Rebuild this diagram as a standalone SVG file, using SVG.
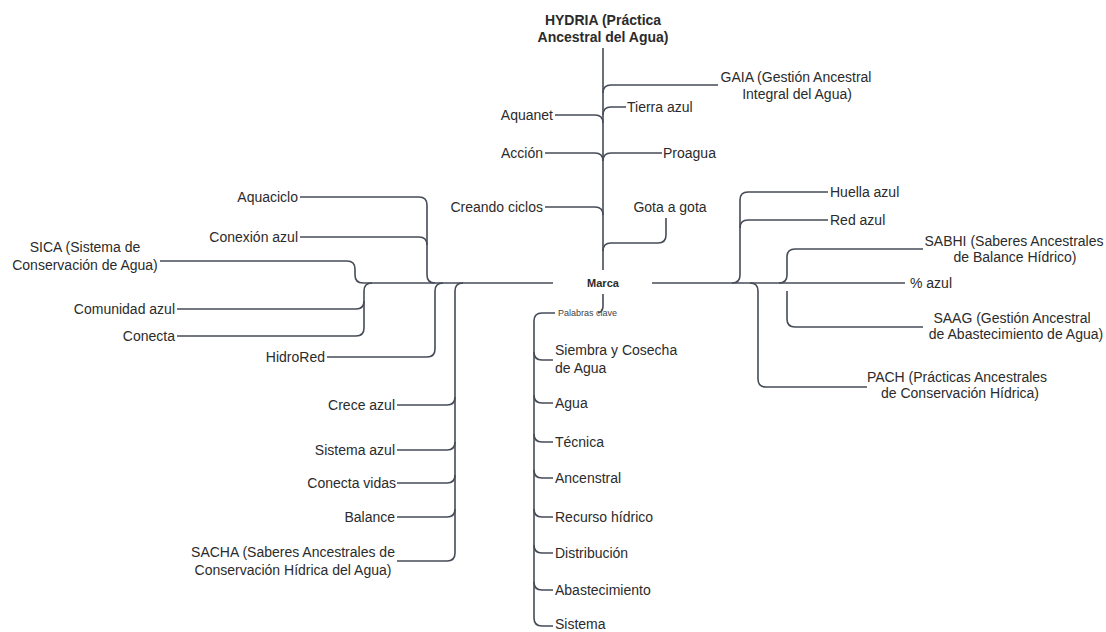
<svg xmlns="http://www.w3.org/2000/svg" width="1106" height="632" viewBox="0 0 1106 632">
<style>
text{font-family:"Liberation Sans",Arial,sans-serif;font-size:14px;fill:#2b2b2b}
.b{font-weight:bold}
.e{text-anchor:end}
.m{text-anchor:middle}
.s{font-size:9px;fill:#444}
#connectors path{fill:none;stroke:#454b57;stroke-width:1.6}
</style>
<rect width="1106" height="632" fill="#fff"/>
<g id="connectors">
<path d="M603,48 V270"/>
<path d="M603,93 Q603,85 611,85 H718"/>
<path d="M603,115 Q603,107 611,107 H626"/>
<path d="M555,115 H595 Q603,115 603,123"/>
<path d="M545,153 H595 Q603,153 603,161"/>
<path d="M603,161 Q603,153 611,153 H662"/>
<path d="M545,207 H595 Q603,207 603,215"/>
<path d="M666,218 V235 Q666,243 658,243 H611 Q603,243 603,251"/>
<path d="M363,283 H553"/>
<path d="M652,283 H905"/>
<path d="M300,197 H419 Q427,197 427,205 V275 Q427,283 435,283"/>
<path d="M300,237 H419 Q427,237 427,245"/>
<path d="M160,261 H347 Q355,261 355,269 V275 Q355,283 363,283"/>
<path d="M372,283 Q364,283 364,291 V328 Q364,336 356,336 H177"/>
<path d="M177,309 H356 Q364,309 364,301"/>
<path d="M443,283 Q435,283 435,291 V349 Q435,357 427,357 H327"/>
<path d="M463,283 Q455,283 455,291 V553 Q455,561 447,561 H397"/>
<path d="M397,405 H447 Q455,405 455,397"/>
<path d="M397,450 H447 Q455,450 455,442"/>
<path d="M397,483 H447 Q455,483 455,475"/>
<path d="M397,517 H447 Q455,517 455,509"/>
<path d="M603,294 V306 Q603,312 598,313"/>
<path d="M555,313 H542 Q534,313 534,321 V618 Q534,626 542,626 H553"/>
<path d="M534,352 Q534,360 542,360 H553"/>
<path d="M534,395 Q534,403 542,403 H553"/>
<path d="M534,434 Q534,442 542,442 H553"/>
<path d="M534,470 Q534,478 542,478 H553"/>
<path d="M534,509 Q534,517 542,517 H553"/>
<path d="M534,545 Q534,553 542,553 H553"/>
<path d="M534,582 Q534,590 542,590 H553"/>
<path d="M732,283 Q740,283 740,275 V200 Q740,192 748,192 H828"/>
<path d="M740,228 Q740,220 748,220 H828"/>
<path d="M779,283 Q787,283 787,275 V257 Q787,249 795,249 H923"/>
<path d="M787,291 V319 Q787,327 795,327 H923"/>
<path d="M750,283 Q758,283 758,291 V379 Q758,387 766,387 H867"/>
</g>
<g id="n-hydria"><text class="b m" x="603" y="25">HYDRIA (Práctica</text><text class="b m" x="603" y="42">Ancestral del Agua)</text></g>
<g id="n-gaia"><text class="m" x="796" y="82">GAIA (Gestión Ancestral</text><text class="m" x="797" y="99">Integral del Agua)</text></g>
<g id="n-tierra"><text x="627" y="112">Tierra azul</text></g>
<g id="n-aquanet"><text class="e" x="553" y="120">Aquanet</text></g>
<g id="n-accion"><text class="e" x="543" y="158">Acción</text></g>
<g id="n-proagua"><text x="663" y="158">Proagua</text></g>
<g id="n-creando"><text class="e" x="543" y="212">Creando ciclos</text></g>
<g id="n-gota"><text class="m" x="670" y="212">Gota a gota</text></g>
<g id="n-marca"><text class="b m" x="603" y="287" style="font-size:11px">Marca</text></g>
<g id="n-aquaciclo"><text class="e" x="298" y="202">Aquaciclo</text></g>
<g id="n-conexion"><text class="e" x="298" y="242">Conexión azul</text></g>
<g id="n-sica"><text class="m" x="85" y="252">SICA (Sistema de</text><text class="m" x="85" y="270">Conservación de Agua)</text></g>
<g id="n-comunidad"><text class="e" x="175" y="314">Comunidad azul</text></g>
<g id="n-conecta"><text class="e" x="175" y="341">Conecta</text></g>
<g id="n-hidrored"><text class="e" x="325" y="362">HidroRed</text></g>
<g id="n-crece"><text class="e" x="395" y="410">Crece azul</text></g>
<g id="n-sistemaazul"><text class="e" x="395" y="455">Sistema azul</text></g>
<g id="n-conectavidas"><text class="e" x="396" y="488">Conecta vidas</text></g>
<g id="n-balance"><text class="e" x="395" y="522">Balance</text></g>
<g id="n-sacha"><text class="m" x="293" y="557">SACHA (Saberes Ancestrales de</text><text class="m" x="293" y="575">Conservación Hídrica del Agua)</text></g>
<g id="n-palabras"><text class="s" x="558" y="316">Palabras clave</text></g>
<g id="n-siembra"><text x="555" y="355">Siembra y Cosecha</text><text x="555" y="373">de Agua</text></g>
<g id="n-agua"><text x="555" y="408">Agua</text></g>
<g id="n-tecnica"><text x="555" y="447">Técnica</text></g>
<g id="n-ancenstral"><text x="555" y="483">Ancenstral</text></g>
<g id="n-recurso"><text x="555" y="522">Recurso hídrico</text></g>
<g id="n-distribucion"><text x="555" y="558">Distribución</text></g>
<g id="n-abastecimiento"><text x="555" y="595">Abastecimiento</text></g>
<g id="n-sistema"><text x="555" y="629">Sistema</text></g>
<g id="n-huella"><text x="830" y="197">Huella azul</text></g>
<g id="n-redazul"><text x="830" y="225">Red azul</text></g>
<g id="n-sabhi"><text class="m" x="1014" y="246">SABHI (Saberes Ancestrales</text><text class="m" x="1015" y="262">de Balance Hídrico)</text></g>
<g id="n-pctazul"><text x="910" y="288">% azul</text></g>
<g id="n-saag"><text class="m" x="1012" y="323">SAAG (Gestión Ancestral</text><text class="m" x="1016" y="339">de Abastecimiento de Agua)</text></g>
<g id="n-pach"><text class="m" x="957" y="382">PACH (Prácticas Ancestrales</text><text class="m" x="960" y="398">de Conservación Hídrica)</text></g>
</svg>
